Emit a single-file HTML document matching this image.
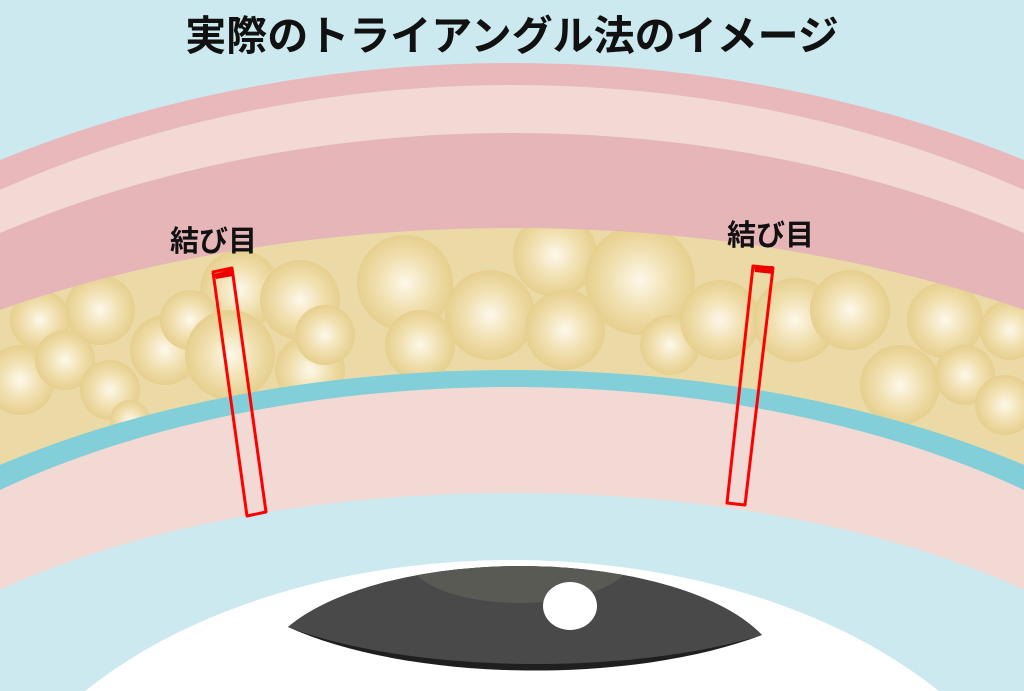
<!DOCTYPE html>
<html><head><meta charset="utf-8"><style>
html,body{margin:0;padding:0;width:1024px;height:691px;overflow:hidden;background:#cce9ef}
svg{display:block;overflow:hidden}
text{font-family:"Liberation Sans","Noto Sans CJK JP",sans-serif;font-weight:bold;fill:#111}
</style></head><body>
<svg width="1024" height="691" viewBox="0 0 1024 691" xmlns="http://www.w3.org/2000/svg">
<defs>
<radialGradient id="f" cx="0.5" cy="0.5" r="0.5">
<stop offset="0" stop-color="#fdf8ea"/><stop offset="0.55" stop-color="#f1e0b0"/><stop offset="1" stop-color="#e6cf8d"/>
</radialGradient>
<clipPath id="fatc"><ellipse cx="512" cy="800" rx="993" ry="572"/></clipPath>
<clipPath id="iris"><path d="M288 627 A260 110 0 0 1 762 635 A320 120 0 0 1 288 627Z"/></clipPath>
</defs>
<rect width="1024" height="691" fill="#cce9ef"/>
<ellipse cx="512" cy="800" rx="1032" ry="737" fill="#e8b8ba"/>
<ellipse cx="512" cy="800" rx="982" ry="715" fill="#f2d9d3"/>
<ellipse cx="512" cy="800" rx="972" ry="667" fill="#e5b5b8"/>
<ellipse cx="512" cy="800" rx="993" ry="572" fill="#ecdaa6"/>
<g clip-path="url(#fatc)">
<g fill="url(#f)">
<circle cx="20" cy="380" r="35"/><circle cx="100" cy="310" r="35"/><circle cx="40" cy="320" r="30"/>
<circle cx="65" cy="360" r="30"/><circle cx="110" cy="390" r="30"/><circle cx="165" cy="350" r="35"/>
<circle cx="240" cy="290" r="40"/><circle cx="190" cy="320" r="30"/><circle cx="230" cy="355" r="45"/>
<circle cx="300" cy="300" r="40"/><circle cx="310" cy="370" r="35"/><circle cx="325" cy="335" r="30"/>
<circle cx="405" cy="283" r="48"/><circle cx="420" cy="345" r="35"/><circle cx="490" cy="315" r="45"/>
<circle cx="555" cy="255" r="42"/><circle cx="640" cy="280" r="55"/><circle cx="565" cy="330" r="40"/>
<circle cx="670" cy="345" r="30"/><circle cx="720" cy="320" r="40"/><circle cx="795" cy="320" r="42"/>
<circle cx="850" cy="310" r="40"/><circle cx="945" cy="320" r="38"/><circle cx="900" cy="385" r="40"/>
<circle cx="965" cy="375" r="30"/><circle cx="1010" cy="330" r="30"/><circle cx="1005" cy="405" r="30"/>
<circle cx="130" cy="420" r="20"/>
</g></g>
<ellipse cx="512" cy="800" rx="817" ry="430" fill="#82cfd9"/>
<ellipse cx="512" cy="800" rx="775" ry="413" fill="#f2d9d3"/>
<ellipse cx="512" cy="800" rx="702" ry="307" fill="#cce9ef"/>
<ellipse cx="512" cy="900" rx="541" ry="340" fill="#ffffff"/>
<g clip-path="url(#iris)">
<rect x="280" y="540" width="490" height="150" fill="#1f1f1f"/>
<path d="M288 627 A260 110 0 0 1 762 635 A320 100 0 0 1 288 627Z" fill="#4a494a"/>
<ellipse cx="520" cy="560" rx="110" ry="43" fill="#5a5a55"/>
</g>
<ellipse cx="570" cy="606" rx="27" ry="24" fill="#fff"/>
<polygon points="213,272 232,268 266,512 247,516" fill="none" stroke="#f00" stroke-width="3" stroke-linejoin="round"/>
<polygon points="753,266 773,268 745,505 727,503" fill="none" stroke="#f00" stroke-width="3" stroke-linejoin="round"/>
<path d="M214 274 L232 269 L233 276 L216 279Z" fill="#e00"/>
<path d="M754 267 L773 266 L773 274 L755 272Z" fill="#e00"/>
<text x="170" y="251" font-size="29">結び目</text>
<text x="727" y="245" font-size="29">結び目</text>
<text x="512" y="50" font-size="41" text-anchor="middle">実際のトライアングル法のイメージ</text>
</svg>
</body></html>
